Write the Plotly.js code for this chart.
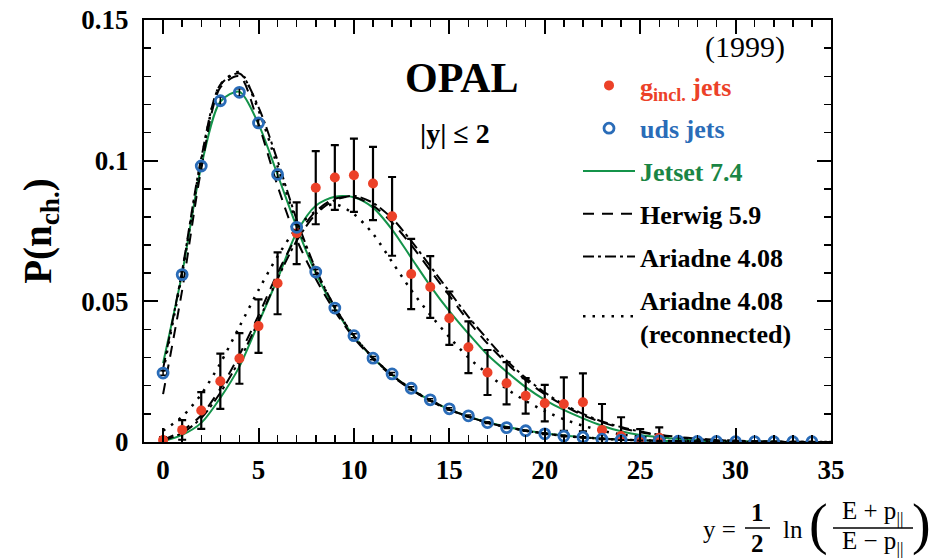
<!DOCTYPE html>
<html>
<head>
<meta charset="utf-8">
<script src="https://cdn.plot.ly/plotly-3.0.1.min.js"></script>
<style>html,body{margin:0;padding:0;background:#fff;}#chart{width:930px;height:558px;}</style>
</head>
<body>
<div id="chart"></div>
<script>
// ---- data ----
var nGluon = [0,1,2,3,4,5,6,7,8,9,10,11,12,13,14,15,16,17,18,19,20,21,22,23,24,25,26];
var gluonP = [0.0007,0.0043,0.0112,0.0216,0.0297,0.0412,0.0564,0.0742,0.0904,0.0940,0.0948,0.0919,0.0802,0.0597,0.0551,0.0440,0.0337,0.0247,0.0209,0.0164,0.0138,0.0135,0.0141,0.0043,0.0021,0.0006,0.0015];
var gluonErr = [0.001,0.0035,0.0065,0.0098,0.009,0.0095,0.011,0.011,0.013,0.0115,0.013,0.013,0.014,0.0125,0.011,0.0095,0.0092,0.008,0.0075,0.0063,0.0065,0.0095,0.0103,0.0092,0.0067,0.004,0.0037];

var nUds = [0,1,2,3,4,5,6,7,8,9,10,11,12,13,14,15,16,17,18,19,20,21,22,23,24,25,26,27,28,29,30,31,32,33,34];
var udsP = [0.0245,0.0595,0.0981,0.1213,0.1243,0.1134,0.0951,0.0763,0.0604,0.0476,0.0378,0.0298,0.0242,0.0191,0.0150,0.0118,0.0093,0.0069,0.0051,0.0040,0.0029,0.0021,0.0017,0.0010,0.0007,0.0005,0.0004,0.0003,0.0002,0.0002,0.0001,0.0001,0.0001,0.0001,0.0001];
var udsErr = [0.0008,0.001,0.0012,0.0013,0.0013,0.0012,0.0011,0.001,0.0009,0.0008,0.0007,0.0006,0.0005,0.0005,0.0004,0.0004,0.0003,0.0003,0.0003,0.0002,0.0002,0.0002,0.0002,0.0001,0.0001,0.0001,0.0001,0.0001,0.0001,0.0001,0.0001,0.0001,0.0001,0.0001,0.0001];

var nModel = [0,1,2,3,4,5,6,7,8,9,10,11,12,13,14,15,16,17,18,19,20,21,22,23,24,25,26,27,28,29,30,31,32,33,34,35];
var jetsetUds  = [0.028,0.060,0.098,0.121,0.1245,0.113,0.095,0.0765,0.060,0.0475,0.0375,0.0298,0.0238,0.0188,0.0148,0.0116,0.0091,0.0070,0.0054,0.0041,0.0031,0.0023,0.0017,0.0012,0.0009,0.0006,0.0004,0.0003,0.0002,0.00015,0.0001,0.00007,0.00005,0.00003,0.00002,0.00001];
var herwigUds  = [0.017,0.054,0.097,0.126,0.130,0.113,0.091,0.072,0.058,0.0465,0.037,0.0295,0.0235,0.0186,0.0146,0.0114,0.0089,0.0068,0.0052,0.0040,0.0030,0.0022,0.0016,0.0012,0.0008,0.0006,0.0004,0.0003,0.0002,0.00013,0.00009,0.00006,0.00004,0.00003,0.00002,0.00001];
var ariadneUds = [0.026,0.061,0.101,0.127,0.131,0.119,0.100,0.079,0.0615,0.048,0.0378,0.030,0.0238,0.0188,0.0148,0.0116,0.0090,0.0069,0.0053,0.0040,0.0030,0.0022,0.0016,0.0012,0.0008,0.0006,0.0004,0.0003,0.0002,0.00013,0.00009,0.00006,0.00004,0.00003,0.00002,0.00001];
var reconnUds  = [0.025,0.060,0.100,0.127,0.1315,0.118,0.098,0.078,0.061,0.0478,0.0377,0.0299,0.0238,0.0188,0.0148,0.0116,0.0090,0.0069,0.0053,0.0040,0.0030,0.0022,0.0016,0.0012,0.0008,0.0006,0.0004,0.0003,0.0002,0.00013,0.00009,0.00006,0.00004,0.00003,0.00002,0.00001];

var jetsetG  = [0.0002,0.0025,0.0068,0.0157,0.0268,0.0423,0.058,0.0745,0.084,0.0872,0.087,0.0833,0.0755,0.0655,0.0555,0.0465,0.0385,0.031,0.025,0.0195,0.015,0.0114,0.0084,0.0058,0.0038,0.0025,0.0017,0.0011,0.0007,0.0004,0.0002,0.0001,0.00005,0.00003,0.00002,0.00001];
var herwigG  = [0.0008,0.0040,0.0095,0.019,0.031,0.045,0.060,0.073,0.082,0.0865,0.087,0.084,0.078,0.070,0.061,0.052,0.043,0.035,0.028,0.022,0.017,0.013,0.0095,0.007,0.005,0.0035,0.0024,0.0016,0.001,0.0006,0.0004,0.0002,0.0001,0.00005,0.00003,0.00001];
var ariadneG = [0.0005,0.0032,0.0085,0.0175,0.029,0.043,0.058,0.0715,0.081,0.086,0.0875,0.085,0.0795,0.0715,0.0625,0.0535,0.0445,0.0365,0.029,0.0228,0.0176,0.0134,0.010,0.0073,0.0053,0.0037,0.0026,0.0018,0.0012,0.0008,0.0005,0.0003,0.0002,0.0001,0.00005,0.00002];
var reconnG  = [0.004,0.009,0.017,0.028,0.041,0.054,0.066,0.076,0.082,0.0845,0.081,0.074,0.064,0.054,0.0452,0.0373,0.030,0.0243,0.0189,0.0146,0.011,0.0081,0.0058,0.004,0.0027,0.0018,0.0012,0.0008,0.0005,0.0003,0.0002,0.0001,0.00006,0.00003,0.00002,0.00001];

var xTicks = [0,5,10,15,20,25,30,35];
var yTicks = [0,0.05,0.1,0.15];
var yTickText = ['0','0.05','0.1','0.15'];

// ---- styles ----
var RED = '#ec4128', BLUE = '#2a6cb8', GREEN = '#14934a';
var SERIF = 'Liberation Serif, Times New Roman, serif';

function model(y, name, group, rank, color, dash, show, width) {
  return {x: nModel, y: y, type: 'scatter', mode: 'lines', name: name, legendgroup: group,
          legendrank: rank, showlegend: show,
          line: {color: color, dash: dash, width: width || 2, shape: 'spline', smoothing: 0.8},
          hoverinfo: 'skip'};
}

var traces = [
  model(jetsetUds, '<span style="color:#1a8544">Jetset 7.4</span>', 'jet', 3, GREEN, 'solid', true, 2),
  model(jetsetG, 'Jetset 7.4', 'jet', 3, GREEN, 'solid', false, 2),
  model(herwigUds, 'Herwig 5.9', 'her', 4, 'black', '11px,8px', true, 2),
  model(herwigG, 'Herwig 5.9', 'her', 4, 'black', '11px,8px', false, 2),
  model(ariadneUds, 'Ariadne 4.08', 'ari', 5, 'black', '11px,4px,3px,4px', true, 2),
  model(ariadneG, 'Ariadne 4.08', 'ari', 5, 'black', '11px,4px,3px,4px', false, 2),
  model(reconnUds, 'Ariadne 4.08<br>(reconnected)', 'rec', 6, 'black', '2.5px,7px', true, 2.5),
  model(reconnG, 'Ariadne 4.08', 'rec', 6, 'black', '2.5px,7px', false, 2.5),
  {x: nGluon, y: gluonP, type: 'scatter', mode: 'markers', cliponaxis: true,
   name: '<span style="color:' + RED + '">g<sub>incl.</sub> jets</span>', legendgroup: 'g', legendrank: 1,
   marker: {color: RED, size: 10, symbol: 'circle'},
   error_y: {type: 'data', array: gluonErr, visible: true, color: 'black', thickness: 2.2, width: 4}},
  {x: nUds, y: udsP, type: 'scatter', mode: 'markers', cliponaxis: true,
   name: '<span style="color:' + BLUE + '">uds jets</span>', legendgroup: 'u', legendrank: 2,
   marker: {color: BLUE, size: 10, symbol: 'circle-open', line: {width: 2.8, color: BLUE}},
   error_y: {type: 'data', array: udsErr, visible: true, color: 'black', thickness: 1.5, width: 3}}
];

function px(x) { return (x - 144) / 687; }
function py(y) { return (442 - y) / 422; }
function ann(text, x, y, size, weight, extra) {
  var a = {text: text, xref: 'paper', yref: 'paper', x: px(x), y: py(y), xanchor: 'center', yanchor: 'middle',
           showarrow: false, font: {family: SERIF, size: size, color: 'black', weight: weight || 'normal'}};
  if (extra) for (var k in extra) a[k] = extra[k];
  return a;
}

var layout = {
  width: 930, height: 558,
  margin: {l: 144, r: 99, t: 20, b: 116},
  paper_bgcolor: 'white', plot_bgcolor: 'white',
  showlegend: true,
  legend: {x: px(578), y: py(62), xanchor: 'left', yanchor: 'top', bgcolor: 'rgba(0,0,0,0)',
           font: {family: SERIF, size: 26, color: 'black', weight: 'bold'},
           traceorder: 'grouped', tracegroupgap: 6, itemwidth: 52},
  xaxis: {range: [-1, 35], tickmode: 'array', tickvals: xTicks, ticks: 'inside', ticklen: 14, tickwidth: 2,
          tickcolor: 'black', showline: true, linewidth: 2, linecolor: 'black', mirror: 'allticks',
          showgrid: false, zeroline: false, ticklabelstandoff: 3,
          minor: {dtick: 1, ticks: 'inside', ticklen: 7, tickwidth: 1.5, tickcolor: 'black', showgrid: false},
          tickfont: {family: SERIF, size: 27, color: 'black', weight: 'bold'}},
  yaxis: {range: [0, 0.15], tickmode: 'array', tickvals: yTicks, ticktext: yTickText, ticks: 'inside', ticklen: 14, tickwidth: 2,
          tickcolor: 'black', showline: true, linewidth: 2, linecolor: 'black', mirror: 'allticks',
          showgrid: false, zeroline: false, ticklabelstandoff: 8,
          minor: {dtick: 0.01, ticks: 'inside', ticklen: 7, tickwidth: 1.5, tickcolor: 'black', showgrid: false},
          tickfont: {family: SERIF, size: 27, color: 'black', weight: 'bold'},
          title: {text: 'P(n<sub>ch.</sub>)', standoff: 18, font: {family: SERIF, size: 39, color: 'black', weight: 'bold'}}},
  annotations: [
    ann('OPAL', 462, 78, 42, 'bold'),
    ann('|y| ≤ 2', 455, 133, 28, 'bold'),
    ann('(1999)', 745, 47, 30, 'normal'),
    ann('y =', 719, 529, 25, 'normal'),
    ann('1', 757, 512, 25, 'bold'),
    ann('2', 757, 543, 25, 'bold'),
    ann('ln', 793, 529, 25, 'normal'),
    ann('(', 818, 524, 56, 'normal'),
    ann('E + p<sub>||</sub>', 872, 512, 25, 'normal'),
    ann('E − p<sub>||</sub>', 872, 542, 25, 'normal'),
    ann(')', 921, 524, 56, 'normal')
  ],
  shapes: [
    {type: 'line', xref: 'paper', yref: 'paper', x0: px(745), x1: px(770), y0: py(528), y1: py(528), line: {color: 'black', width: 1.5}},
    {type: 'line', xref: 'paper', yref: 'paper', x0: px(833), x1: px(913), y0: py(528), y1: py(528), line: {color: 'black', width: 1.5}}
  ]
};

Plotly.newPlot('chart', traces, layout, {displayModeBar: false, staticPlot: true});
</script>
</body>
</html>
